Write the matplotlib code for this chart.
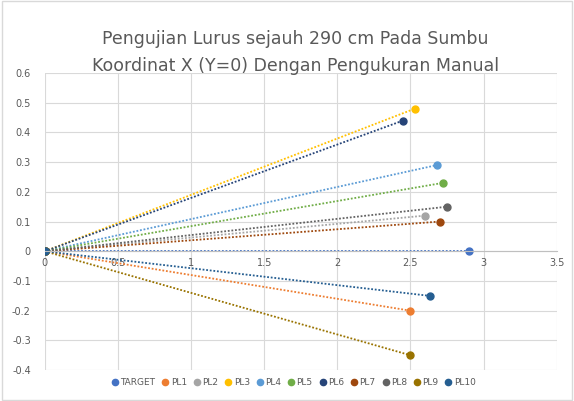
import matplotlib
matplotlib.use("Agg")
import matplotlib.pyplot as plt
from matplotlib.lines import Line2D

names = ["TARGET", "PL1", "PL2", "PL3", "PL4", "PL5", "PL6", "PL7", "PL8", "PL9", "PL10"]
end_x = [2.90, 2.50, 2.60, 2.53, 2.68, 2.72, 2.45, 2.70, 2.75, 2.50, 2.63]
end_y = [0.00, -0.20, 0.12, 0.48, 0.29, 0.23, 0.44, 0.10, 0.15, -0.35, -0.15]
colors = ["#4472C4", "#ED7D31", "#A5A5A5", "#FFC000", "#5B9BD5", "#70AD47",
          "#264478", "#9E480E", "#636363", "#997300", "#255E91"]

fig = plt.figure(figsize=(5.74, 4.01), dpi=100)
ax = fig.add_axes([0.078, 0.077, 0.892, 0.741])

for n, x, y, c in zip(names, end_x, end_y, colors):
    ax.plot([0, x], [0, y], linestyle=(0, (1, 1)), color=c, linewidth=1.3)
    ax.plot([0, x], [0, y], linestyle="none", marker="o", markersize=5, color=c)

ax.set_xlim(0, 3.5)
ax.set_ylim(-0.4, 0.6)
ax.set_xticks([0, 0.5, 1, 1.5, 2, 2.5, 3, 3.5])
ax.set_xticklabels(["0", "0.5", "1", "1.5", "2", "2.5", "3", "3.5"])
ax.set_yticks([-0.4, -0.3, -0.2, -0.1, 0, 0.1, 0.2, 0.3, 0.4, 0.5, 0.6])
ax.set_yticklabels(["-0.4", "-0.3", "-0.2", "-0.1", "0", "0.1", "0.2", "0.3", "0.4", "0.5", "0.6"])
ax.grid(True, color="#D9D9D9", linewidth=0.8)
ax.set_axisbelow(True)
for s in ["top", "right", "left"]:
    ax.spines[s].set_visible(False)
ax.spines["bottom"].set_position(("data", 0))
ax.spines["bottom"].set_color("#BFBFBF")
ax.tick_params(axis="both", length=0, labelsize=7, colors="#595959")
ax.tick_params(axis="y", pad=10)
ax.tick_params(axis="x", pad=5)

fig.text(0.515, 0.869, "Pengujian Lurus sejauh 290 cm Pada Sumbu\nKoordinat X (Y=0) Dengan Pengukuran Manual",
         ha="center", va="center", fontsize=12.5, color="#595959", linespacing=1.6)

handles = [Line2D([], [], linestyle="none", marker="o", markersize=4.5, color=c) for c in colors]
fig.legend(handles, names, loc="center", bbox_to_anchor=(0.51, 0.045), ncol=11, frameon=False,
           fontsize=6.5, handletextpad=0.0, columnspacing=0.5, handlelength=1.2,
           labelcolor="#595959")

border = plt.Rectangle((0.003, 0.003), 0.994, 0.994, transform=fig.transFigure, fill=False,
                       edgecolor="#D9D9D9", linewidth=1)
fig.patches.append(border)

fig.savefig("out.png", dpi=100)
